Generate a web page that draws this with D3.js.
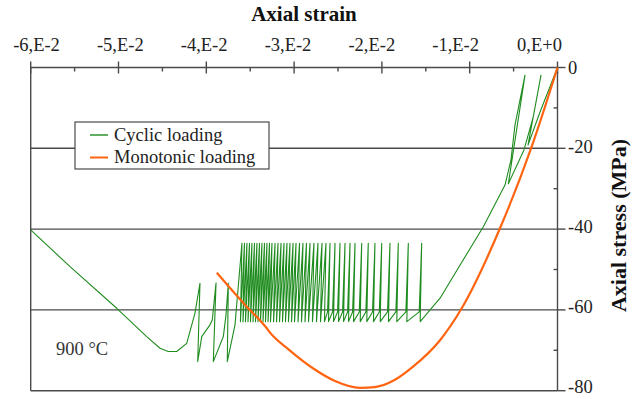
<!DOCTYPE html>
<html><head><meta charset="utf-8">
<script src="https://cdn.jsdelivr.net/npm/d3@7/dist/d3.min.js"></script>
<style>html,body{margin:0;padding:0;background:#fff;}svg{display:block;}</style>
</head><body><svg id="c" width="638" height="399"></svg>
<script>
// ---- data ----
const xTickValues = [-0.06, -0.05, -0.04, -0.03, -0.02, -0.01, 0];
const xTickLabels = ["-6,E-2", "-5,E-2", "-4,E-2", "-3,E-2", "-2,E-2", "-1,E-2", "0,E+0"];
const xMinorValues = [-0.055, -0.045, -0.035, -0.025, -0.015, -0.005];
const yTickValues = [0, -20, -40, -60, -80];
const yTickLabels = ["0", "-20", "-40", "-60", "-80"];
const yMinorValues = [-10, -30, -50, -70];
const gridValues = [-20, -40, -60];

const cyclicStrain = [
  0, -0.00199, -0.00336, -0.00188, -0.00279, -0.00382, -0.00560, -0.00370, -0.00484, -0.00530, -0.00598, -0.00845, -0.01338,
  -0.01564, -0.01547, -0.01575, -0.01716, -0.01699, -0.01727, -0.01830, -0.01813, -0.01841,
  -0.01925, -0.01908, -0.01936, -0.02019, -0.02002, -0.02030, -0.02096, -0.02079, -0.02107,
  -0.02172, -0.02155, -0.02183, -0.02247, -0.02230, -0.02258, -0.02323, -0.02306, -0.02334,
  -0.02380, -0.02363, -0.02391, -0.02437, -0.02420, -0.02448, -0.02494, -0.02477, -0.02505,
  -0.02551, -0.02534, -0.02562, -0.02608, -0.02591, -0.02619, -0.02654, -0.02637,
  -0.02699, -0.02682, -0.02745, -0.02728, -0.02791, -0.02774, -0.02836, -0.02819, -0.02876, -0.02859,
  -0.02916, -0.02899, -0.02955, -0.02938, -0.02995, -0.02978, -0.03029, -0.03012, -0.03064, -0.03047,
  -0.03098, -0.03081, -0.03132, -0.03115, -0.03166, -0.03149, -0.03200, -0.03183, -0.03234, -0.03217,
  -0.03269, -0.03252, -0.03297, -0.03280, -0.03326, -0.03309, -0.03354, -0.03337, -0.03383, -0.03366,
  -0.03411, -0.03394, -0.03440, -0.03423, -0.03468, -0.03451, -0.03497, -0.03480, -0.03525, -0.03508,
  -0.03554, -0.03537, -0.03582, -0.03565, -0.03611, -0.03594,
  -0.03673, -0.03761, -0.03749, -0.03776, -0.03806, -0.03920, -0.03889, -0.03932, -0.03958, -0.04052,
  -0.04098, -0.04072, -0.04129, -0.04223, -0.04337, -0.04433, -0.04527, -0.04679, -0.05020, -0.05552, -0.0600
];
const cyclicStress = [
  0, -11.0, -19.2, -1.9, -12.5, -20.4, -28.8, -1.9, -14.2, -22.9, -29.1, -39.4, -57.1,
  -62.9, -43.5, -60.5, -62.9, -43.5, -60.5, -62.9, -43.5, -60.5,
  -62.9, -43.5, -60.5, -62.9, -43.5, -60.5, -62.9, -43.5, -60.5,
  -62.9, -43.5, -60.5, -62.9, -43.5, -60.5, -62.9, -43.5, -60.5,
  -62.9, -43.5, -60.5, -62.9, -43.5, -60.5, -62.9, -43.5, -60.5,
  -62.9, -43.5, -60.5, -62.9, -43.5, -60.5, -62.9, -43.5,
  -62.9, -43.5, -62.9, -43.5, -62.9, -43.5, -62.9, -43.5, -62.9, -43.5,
  -62.9, -43.5, -62.9, -43.5, -62.9, -43.5, -62.9, -43.5, -62.9, -43.5,
  -62.9, -43.5, -62.9, -43.5, -62.9, -43.5, -62.9, -43.5, -62.9, -43.5,
  -62.9, -43.5, -62.9, -43.5, -62.9, -43.5, -62.9, -43.5, -62.9, -43.5,
  -62.9, -43.5, -62.9, -43.5, -62.9, -43.5, -62.9, -43.5, -62.9, -43.5,
  -62.9, -43.5, -62.9, -43.5, -62.9, -43.5,
  -63.7, -72.8, -53.4, -61.3, -66.6, -72.8, -53.3, -62.5, -63.7, -66.6,
  -72.8, -53.4, -60.8, -68.3, -70.3, -70.3, -69.5, -66.6, -59.6, -49.3, -40.2
];

const monoStrain = [-0.03881, -0.03700, -0.03540, -0.03380, -0.03320, -0.03290, -0.03050, -0.02781, -0.02534, -0.02250, -0.02079, -0.01851, -0.01642, -0.01338, -0.01091, -0.00655, -0.00294, 0];
const monoStress = [-50.8, -55.3, -59.2, -62.8, -64.3, -65.2, -70.0, -74.5, -77.6, -79.3, -79.1, -77.3, -74.0, -67.5, -59.6, -39.8, -19.6, 0];

const seriesNames = ["Cyclic loading", "Monotonic loading"];
const seriesColors = ["#1f8c1f", "#ff6410"];

// ---- layout ----
const svg = d3.select("#c");
const x = d3.scaleLinear().domain([-0.06, 0]).range([30.7, 557.5]);
const y = d3.scaleLinear().domain([-80, 0]).range([390.7, 67.5]);
const xLab = d3.scaleLinear().domain([-0.06, 0]).range([36.5, 539.5]);
const yLab = d3.scaleLinear().domain([-80, 0]).range([387, 67.5]);
const axisColor = "#4a4a4a";
const serif = "'Liberation Serif','Times New Roman',serif";

// gridlines
svg.append("g").selectAll("line").data(gridValues).join("line")
  .attr("x1", x(-0.06)).attr("x2", x(0)).attr("y1", d => y(d)).attr("y2", d => y(d))
  .attr("stroke", axisColor).attr("stroke-width", 1.4);

// frame: left and bottom
svg.append("line").attr("x1", x(-0.06)).attr("x2", x(-0.06)).attr("y1", y(0)).attr("y2", y(-80))
  .attr("stroke", axisColor).attr("stroke-width", 1.4);
svg.append("line").attr("x1", x(-0.06)).attr("x2", x(0)).attr("y1", y(-80)).attr("y2", y(-80))
  .attr("stroke", axisColor).attr("stroke-width", 1.4);

// top axis
svg.append("line").attr("x1", x(-0.06)).attr("x2", x(0)).attr("y1", y(0)).attr("y2", y(0))
  .attr("stroke", axisColor).attr("stroke-width", 1.4);
svg.append("g").selectAll("line").data(xTickValues).join("line")
  .attr("x1", d => x(d)).attr("x2", d => x(d)).attr("y1", y(0) - 6).attr("y2", y(0) + 6)
  .attr("stroke", axisColor).attr("stroke-width", 1.4);
svg.append("g").selectAll("line").data(xMinorValues).join("line")
  .attr("x1", d => x(d)).attr("x2", d => x(d)).attr("y1", y(0)).attr("y2", y(0) + 4)
  .attr("stroke", axisColor).attr("stroke-width", 1.4);
svg.append("g").selectAll("text").data(xTickValues).join("text")
  .attr("x", d => xLab(d)).attr("y", 50.7).attr("text-anchor", "middle")
  .attr("font-family", serif).attr("font-size", 18.5).attr("fill", "#222")
  .text((d, i) => xTickLabels[i]);

// right axis
svg.append("line").attr("x1", x(0)).attr("x2", x(0)).attr("y1", y(0)).attr("y2", y(-80))
  .attr("stroke", axisColor).attr("stroke-width", 1.4);
svg.append("g").selectAll("line").data(yTickValues).join("line")
  .attr("x1", x(0)).attr("x2", x(0) + 8).attr("y1", d => y(d)).attr("y2", d => y(d))
  .attr("stroke", axisColor).attr("stroke-width", 1.4);
svg.append("g").selectAll("line").data(yMinorValues).join("line")
  .attr("x1", x(0) - 4).attr("x2", x(0)).attr("y1", d => y(d)).attr("y2", d => y(d))
  .attr("stroke", axisColor).attr("stroke-width", 1.4);
svg.append("g").selectAll("text").data(yTickValues).join("text")
  .attr("x", 568).attr("y", d => yLab(d)).attr("dy", "0.33em").attr("text-anchor", "start")
  .attr("font-family", serif).attr("font-size", 18.5).attr("fill", "#222")
  .text((d, i) => yTickLabels[i]);

// titles
svg.append("text").attr("x", 304).attr("y", 20.7).attr("text-anchor", "middle")
  .attr("font-family", serif).attr("font-weight", "bold").attr("font-size", 21).attr("fill", "#111")
  .text("Axial strain");
svg.append("text").attr("transform", "translate(626,225.5) rotate(-90)").attr("text-anchor", "middle")
  .attr("font-family", serif).attr("font-weight", "bold").attr("font-size", 22).attr("fill", "#111")
  .text("Axial stress (MPa)");

// series
const cyc = cyclicStrain.map((v, i) => [v, cyclicStress[i]]);
const mono = monoStrain.map((v, i) => [v, monoStress[i]]);
svg.append("path").datum(cyc)
  .attr("d", d3.line().x(d => x(d[0])).y(d => y(d[1])))
  .attr("fill", "none").attr("stroke", seriesColors[0]).attr("stroke-width", 1.1).attr("stroke-linejoin", "round");
svg.append("path").datum(mono)
  .attr("d", d3.line().x(d => x(d[0])).y(d => y(d[1])).curve(d3.curveMonotoneX))
  .attr("fill", "none").attr("stroke", seriesColors[1]).attr("stroke-width", 2.2).attr("stroke-linejoin", "round");

// temperature label
svg.append("text").attr("x", 56).attr("y", 355).attr("font-family", serif).attr("font-size", 18.5)
  .attr("fill", "#333").text("900 °C");

// legend
const lg = svg.append("g");
lg.append("rect").attr("x", 75).attr("y", 122).attr("width", 194).attr("height", 47)
  .attr("fill", "#fff").attr("stroke", axisColor).attr("stroke-width", 1.2);
const items = lg.selectAll("g.item").data(seriesNames).join("g").attr("class", "item")
  .attr("transform", (d, i) => `translate(0,${i * 22.5})`);
items.append("line").attr("x1", 90).attr("x2", 108).attr("y1", 135).attr("y2", 135)
  .attr("stroke", (d, i) => seriesColors[i]).attr("stroke-width", (d, i) => i ? 2 : 1.4);
items.append("text").attr("x", 114).attr("y", 140.5).attr("font-family", serif).attr("font-size", 18.5)
  .attr("fill", "#222").text(d => d);
</script></body></html>
